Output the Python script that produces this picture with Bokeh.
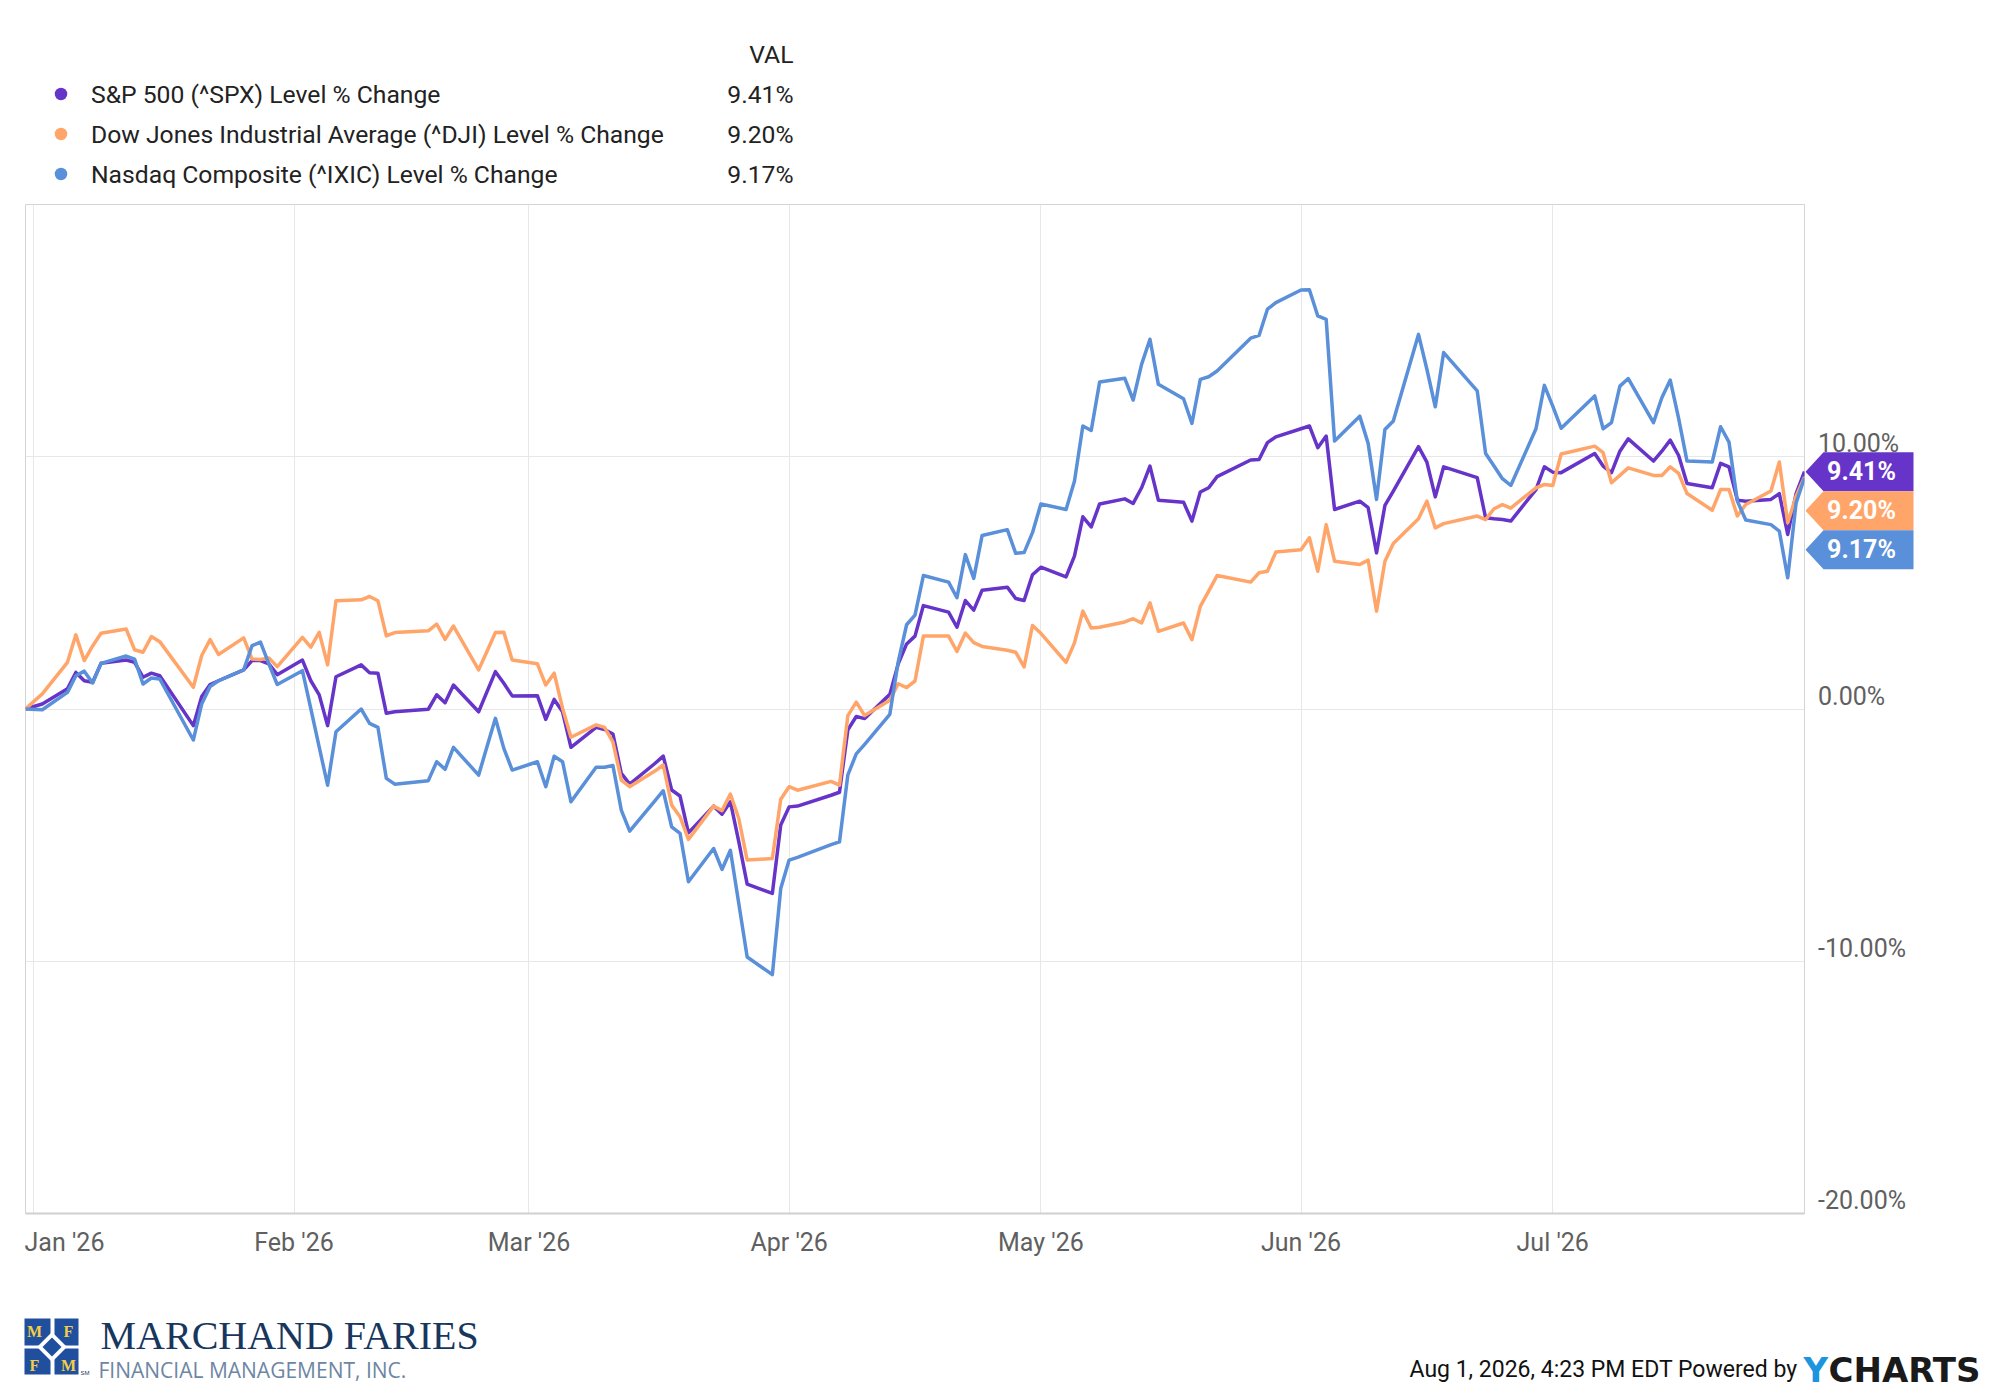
import pandas as pd
from bokeh.plotting import figure
from bokeh.layouts import column, row
from bokeh.models import Range1d, FixedTicker, CustomJSTickFormatter
from bokeh.core.properties import value
from bokeh.embed import file_html
from bokeh.resources import INLINE

# ---------------- data ----------------
base_date = "2025-12-31"
end_date = "2026-07-31"
holidays = ["2026-01-01", "2026-01-19", "2026-02-16", "2026-04-03",
            "2026-05-25", "2026-06-19", "2026-07-03"]

spx = [0.00,
       0.20, 0.80, 1.45, 1.12, 1.06, 1.81, 1.94, 1.85, 1.26, 1.42, 1.32, -0.66, 0.50, 0.97, 1.12, 1.55, 1.92, 1.92, 1.79, 1.36,
       1.94, 1.12, 0.56, -0.66, 1.28, 1.75, 1.44, 1.42, -0.17, -0.11, -0.01, 0.56, 0.25, 0.95, -0.11, 0.69, 1.48, 1.02, 0.52,
       0.53, -0.41, 0.38, -0.11, -1.52, -0.73, -0.81, -0.99, -2.55, -2.98, -2.16, -1.87, -3.21, -3.45, -4.91, -3.85, -4.17, -3.68, -5.26, -6.94, -7.31, -4.60,
       -3.88, -3.85, -3.42, -3.30, -0.82, -0.30, -0.38, 0.58, 1.79, 2.58, 2.89, 4.10, 3.84, 3.24, 4.30, 3.92, 4.71, 4.83, 4.38, 4.30, 5.32,
       5.62, 5.24, 6.06, 7.62, 7.22, 8.13, 8.33, 8.15, 8.77, 9.63, 8.28, 8.20, 7.45, 8.60, 8.77, 9.21, 9.87, 9.89, 10.56, 10.79,
       11.11, 11.22, 10.36, 10.82, 7.91, 8.24, 7.98, 6.19, 8.07, 8.64, 10.40, 9.79, 8.41, 9.60, 9.17, 7.58, 7.54, 7.51, 7.45, 8.70, 9.60,
       9.39, 9.37, 10.13, 9.63, 9.37, 10.22, 10.71, 9.83, 10.22, 10.66, 10.05, 8.94, 8.77, 9.74, 9.60, 8.28, 8.24, 8.31, 8.54, 6.92, 8.54, 9.41]

dji = [0.00,
       0.60, 1.85, 2.94, 1.92, 2.50, 3.00, 3.17, 2.35, 2.25, 2.87, 2.67, 0.86, 2.12, 2.75, 2.16, 2.82, 1.98, 1.96, 2.02, 1.68,
       2.84, 2.45, 3.04, 1.75, 4.29, 4.33, 4.46, 4.29, 2.90, 3.03, 3.10, 3.37, 2.76, 3.29, 1.55, 2.29, 3.03, 3.04, 1.94,
       1.79, 0.95, 1.42, 0.03, -1.12, -0.63, -0.73, -1.30, -2.82, -3.08, -2.46, -2.22, -3.81, -4.27, -5.17, -3.85, -4.03, -3.37, -4.34, -5.99, -5.93, -3.58,
       -3.08, -3.22, -2.87, -3.02, -0.26, 0.27, -0.26, 0.35, 1.00, 0.85, 1.11, 2.89, 2.89, 2.28, 3.01, 2.63, 2.48, 2.33, 2.25, 1.67, 3.31,
       3.00, 1.85, 2.62, 3.88, 3.21, 3.24, 3.45, 3.58, 3.41, 4.21, 3.08, 3.41, 2.75, 4.07, 4.67, 5.29, 5.03, 5.40, 5.46, 6.22,
       6.31, 6.79, 5.46, 7.31, 5.86, 5.73, 5.90, 3.88, 5.86, 6.56, 7.54, 8.24, 7.18, 7.35, 7.65, 7.51, 7.94, 8.10, 7.96, 8.77, 8.90,
       8.86, 10.11, 10.42, 10.16, 8.97, 9.26, 9.56, 9.26, 9.26, 9.60, 9.34, 8.54, 7.88, 8.70, 8.70, 7.65, 8.11, 8.64, 9.79, 7.38, 8.44, 9.20]

ixic = [0.00,
        -0.03, 0.66, 1.32, 1.50, 1.03, 1.81, 2.10, 1.98, 0.99, 1.23, 1.19, -1.23, 0.20, 0.89, 1.12, 1.55, 2.51, 2.65, 1.79, 0.97,
        1.52, 0.01, -1.51, -3.02, -0.90, 0.00, -0.57, -0.73, -2.75, -2.98, -2.84, -2.09, -2.39, -1.52, -2.62, -1.49, -0.37, -1.56, -2.42,
        -2.09, -3.08, -1.87, -2.09, -3.68, -2.31, -2.31, -2.24, -4.01, -4.84, -3.64, -3.24, -4.67, -4.93, -6.85, -5.53, -6.36, -5.60, -7.71, -9.83, -10.53, -7.12,
        -5.99, -5.88, -5.38, -5.27, -2.61, -1.78, -1.40, -0.21, 1.87, 3.34, 3.72, 5.29, 5.03, 4.41, 6.12, 5.18, 6.88, 7.11, 6.17, 6.20, 6.99,
        8.13, 7.91, 9.03, 11.22, 11.04, 12.96, 13.11, 12.25, 13.66, 14.66, 12.87, 12.30, 11.32, 13.07, 13.17, 13.40, 14.70, 14.81, 15.85, 16.11,
        16.61, 16.62, 15.58, 15.45, 10.62, 11.61, 10.53, 8.31, 11.08, 11.42, 14.85, 13.47, 11.98, 14.13, 12.61, 10.13, 9.63, 9.13, 8.86, 11.11, 12.83,
        12.01, 11.13, 12.41, 11.11, 11.35, 12.80, 13.10, 11.35, 12.34, 13.04, 11.52, 9.83, 9.79, 11.19, 10.58, 8.24, 7.49, 7.31, 7.05, 5.20, 8.17, 9.17]

series_names = ["S&P 500 (^SPX) Level % Change",
                "Dow Jones Industrial Average (^DJI) Level % Change",
                "Nasdaq Composite (^IXIC) Level % Change"]
series_colors = ["#6634c9", "#ffa56a", "#5a8fd9"]
last_labels = ["9.41%", "9.20%", "9.17%"]

month_starts = ["2026-01-01", "2026-02-01", "2026-03-01", "2026-04-01",
                "2026-05-01", "2026-06-01", "2026-07-01"]
month_labels = ["Jan '26", "Feb '26", "Mar '26", "Apr '26", "May '26", "Jun '26", "Jul '26"]

y_ticks = [-20, -10, 0, 10]
y_labels = ["-20.00%", "-10.00%", "0.00%", "10.00%"]
y_grid = [-20, -10, 0, 10, 20]

footer_text = "Aug 1, 2026, 4:23 PM EDT Powered by"
logo_name = "MARCHAND FARIES"
logo_sub = "FINANCIAL MANAGEMENT, INC."
logo_letters = ["M", "F", "F", "M"]

# ---------------- x positions (days since base) ----------------
base = pd.Timestamp(base_date)
trading = pd.bdate_range(base_date, end_date, freq="C", holidays=holidays)
days = [(d - base).days for d in trading]
assert len(days) == len(spx) == len(dji) == len(ixic)
month_days = [(pd.Timestamp(m) - base).days for m in month_starts]
x_end = (pd.Timestamp(end_date) - base).days

# ---------------- layout geometry ----------------
W = 1996
HEAD_H = 200
MAIN_H = 1090
FOOT_H = 105
MAIN_W = 1805
SIDE_W = W - MAIN_W
FL = 25                    # frame left
FR = 1804                  # frame right
BT = 4                     # border above frame (frame top at 204)
BB = 77                    # border below frame (frame bottom at 1213)
Y0, Y1 = -20, 20
FRAME_H = MAIN_H - BT - BB
PX_X = x_end / (FR - FL)
PX_Y = (Y1 - Y0) / FRAME_H
FONT = value("Roboto")
GRAY = "#606060"
INK = "#222222"

# ---------------- header (legend) ----------------
head = figure(width=W, height=HEAD_H, x_range=Range1d(0, W), y_range=Range1d(HEAD_H, 0),
              x_axis_location=None, y_axis_location=None, toolbar_location=None,
              output_backend="svg", min_border=0)
head.outline_line_color = None
head.grid.visible = False
row_y = [93.5, 133.5, 173.5]
head.scatter([60.5] * 3, row_y, size=12.5, color=series_colors, line_color=None)
head.text([90.5] * 3, row_y, text=series_names, text_font=FONT, text_font_size="24.7px",
          text_color=INK, text_align="left", text_baseline="middle")
head.text([793] * 4, [54] + row_y, text=["VAL"] + last_labels, text_font=FONT,
          text_font_size="24.7px", text_color=INK, text_align="right", text_baseline="middle")

# ---------------- main chart ----------------
yr = Range1d(Y0, Y1)
p = figure(width=MAIN_W, height=MAIN_H, x_range=Range1d(0, x_end), y_range=yr,
           y_axis_location=None, toolbar_location=None, output_backend="svg",
           min_border_left=FL, min_border_right=MAIN_W - FR,
           min_border_top=BT, min_border_bottom=BB)
p.background_fill_color = "white"
p.border_fill_color = "white"
p.outline_line_color = "#d4d4d4"

p.xgrid.ticker = FixedTicker(ticks=month_days)
p.ygrid.ticker = FixedTicker(ticks=y_grid)
p.grid.grid_line_color = "#e7e7e7"
p.grid.grid_line_width = 1

# the first month label is drawn flush with the left edge of the plot
jan_pos = 39 * PX_X
x_label_pos = [jan_pos] + month_days[1:]
p.xaxis.ticker = FixedTicker(ticks=x_label_pos)
p.xaxis.formatter = CustomJSTickFormatter(
    args=dict(vals=x_label_pos, labs=month_labels),
    code="""
    for (let i = 0; i < vals.length; i++) {
        if (Math.abs(vals[i] - tick) < 1e-6) { return labs[i]; }
    }
    return "";
    """)
p.xaxis.axis_line_color = "#d0d0d0"
p.xaxis.axis_line_width = 2
p.xaxis.major_tick_line_color = None
p.xaxis.minor_tick_line_color = None
p.xaxis.major_tick_out = 0
p.xaxis.major_tick_in = 0
p.xaxis.major_label_standoff = 14
p.xaxis.major_label_text_font = "Roboto"
p.xaxis.major_label_text_font_size = "25px"
p.xaxis.major_label_text_color = GRAY

for vals, col in zip([spx, dji, ixic], series_colors):
    p.line(days, vals, line_width=3.5, color=col, line_join="round")

# ---------------- right side: y labels + end-value flags ----------------
side = figure(width=SIDE_W, height=MAIN_H, x_range=Range1d(0, SIDE_W), y_range=yr,
              x_axis_location=None, y_axis_location=None, toolbar_location=None,
              output_backend="svg", min_border_left=0, min_border_right=0,
              min_border_top=BT, min_border_bottom=BB)
side.outline_line_color = None
side.grid.visible = False
Y_LABEL_SHIFT = 13 * PX_Y
side.text([12.5] * len(y_ticks), [t + Y_LABEL_SHIFT for t in y_ticks], text=y_labels,
          text_font=FONT, text_font_size="25px", text_color=GRAY,
          text_align="left", text_baseline="middle")

FLAG_H = 39 * PX_Y
centers = []
for vals in [spx, dji, ixic]:
    c = vals[-1]
    if centers:
        c = min(c, centers[-1] - FLAG_H)
    centers.append(c)
flag_xs = [[0, 18, 108, 108, 18] for _ in centers]
flag_ys = [[c, c + FLAG_H / 2, c + FLAG_H / 2, c - FLAG_H / 2, c - FLAG_H / 2] for c in centers]
side.patches(flag_xs, flag_ys, fill_color=series_colors, line_color=None)
side.text([56] * 3, centers, text=last_labels, text_font=FONT, text_font_size="25px",
          text_font_style="bold", text_color="white", text_align="center",
          text_baseline="middle")

# ---------------- footer ----------------
foot = figure(width=W, height=FOOT_H, x_range=Range1d(0, W), y_range=Range1d(FOOT_H, 0),
              x_axis_location=None, y_axis_location=None, toolbar_location=None,
              output_backend="svg", min_border=0)
foot.outline_line_color = None
foot.grid.visible = False

LOGO_BLUE = "#1f4f9d"
foot.quad(left=[24, 54, 24, 54], right=[50, 78, 50, 78],
          top=[28, 28, 58, 58], bottom=[55, 55, 84, 84], color=LOGO_BLUE, line_color=None)
cx, cy = 51.5, 56.5
foot.patches([[cx, cx + h, cx, cx - h] for h in (15, 9.5)],
             [[cy - h, cy, cy + h, cy] for h in (15, 9.5)],
             fill_color=["white", LOGO_BLUE], line_color=None)
foot.text([34, 68, 34, 68], [41, 41, 75, 75], text=logo_letters,
          text_font=value("Liberation Serif"), text_font_size="16px", text_font_style="bold",
          text_color="#f3cd47", text_align="center", text_baseline="middle")
foot.text([80], [82], text=["SM"], text_font=value("Liberation Sans"), text_font_size="6px",
          text_color="#1b3a5e", text_align="left", text_baseline="middle")
foot.text([100], [45], text=[logo_name], text_font=value("Liberation Serif"),
          text_font_size="40px", text_color="#17375e", text_align="left", text_baseline="middle")
foot.text([98], [79], text=[logo_sub], text_font=value("Open Sans"),
          text_font_size="21px", text_color="#6d86a3", text_align="left", text_baseline="middle")
foot.text([1797], [79], text=[footer_text], text_font=FONT, text_font_size="23px",
          text_color="#111111", text_align="right", text_baseline="middle")
foot.text([1803], [79], text=["Y"], text_font=value("DejaVu Sans"), text_font_size="34px",
          text_font_style="bold", text_color="#1d95dc", text_align="left", text_baseline="middle")
foot.text([1828], [79], text=["CHARTS"], text_font=value("DejaVu Sans"), text_font_size="34px",
          text_font_style="bold", text_color="#1a1a1a", text_align="left", text_baseline="middle")

layout = column(head, row(p, side), foot)
open("out.html", "w").write(file_html(layout, INLINE))
